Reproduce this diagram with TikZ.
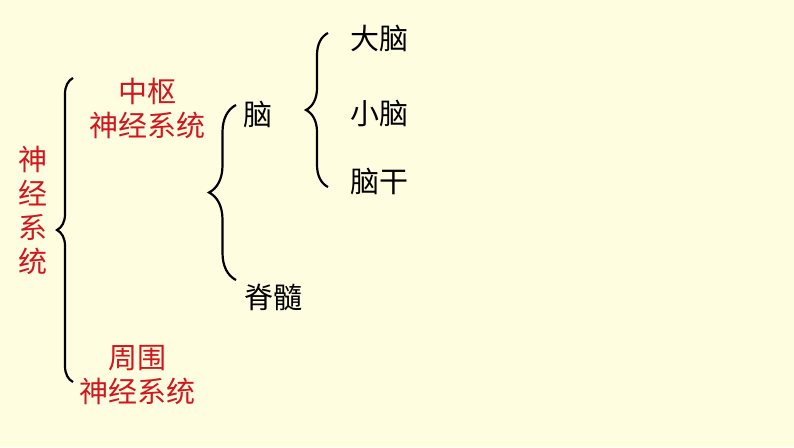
\documentclass[tikz,border=0pt]{standalone}
\usepackage{fontspec}
\setmainfont{Noto Sans CJK SC}
\usetikzlibrary{decorations.pathreplacing}
\definecolor{bgyellow}{RGB}{255,253,224}
\definecolor{termred}{RGB}{210,22,30}

\begin{document}
\begin{tikzpicture}[x=1pt, y=-1pt,
  term/.style={font=\fontsize{29}{34}\selectfont, align=center, inner sep=0pt},
  redterm/.style={term, text=termred},
  brc/.style={decorate, decoration={brace, amplitude=#1, aspect=0.5}, line width=2.2pt}]
  \fill[bgyellow] (0,0) rectangle (794,447);
  \useasboundingbox (0,0) rectangle (794,447);
  % labels
  \node[redterm] (ns)   at (33,210)  {神\\经\\系\\统};
  \node[redterm] (cns)  at (147,108) {中枢\\神经系统};
  \node[redterm] (pns)  at (137,375) {周围\\神经系统};
  \node[term] (brain)   at (258,115) {脑};
  \node[term] (cord)    at (273,297) {脊髓};
  \node[term] (cbr)     at (379,39)  {大脑};
  \node[term] (cbl)     at (379,114) {小脑};
  \node[term] (stem)    at (379,182) {脑干};
  % brace ends
  \coordinate (b1t) at (73,78);
  \coordinate (b1b) at (73,382);
  \coordinate (b2t) at (236,105);
  \coordinate (b2b) at (236,280);
  \coordinate (b3t) at (328,33);
  \coordinate (b3b) at (328,187);
  \draw[brc=16pt] (b1b) -- (b1t);
  \draw[brc=27pt] (b2b) -- (b2t);
  \draw[brc=22pt] (b3b) -- (b3t);
\end{tikzpicture}
\end{document}
